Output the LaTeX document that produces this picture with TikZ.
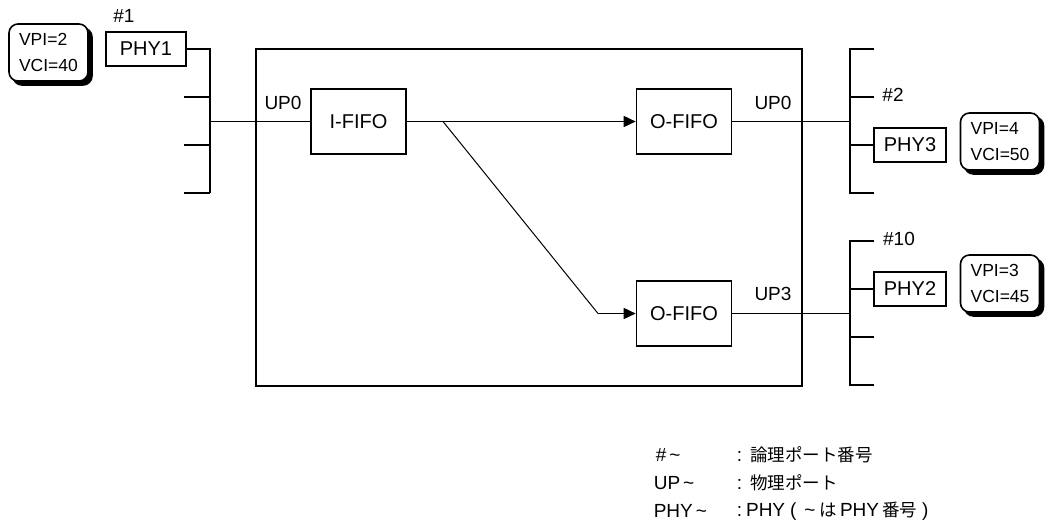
\documentclass[tikz,border=0pt]{standalone}
\usepackage{fontspec}
\setmainfont{Liberation Sans}
\newfontfamily\jp{Noto Sans CJK JP}
\usetikzlibrary{arrows.meta}
\begin{document}
\begin{tikzpicture}[x=1pt,y=-1pt,line width=1.6pt,
  box/.style={draw,minimum width=#1,minimum height=34pt,inner sep=0pt,font=\fontsize{20}{24}\selectfont},
  box/.default=72pt,
  fifo/.style={draw,minimum width=95pt,minimum height=65pt,inner sep=0pt,font=\fontsize{20}{24}\selectfont},
  lbl/.style={inner sep=0pt,font=\fontsize{19}{22}\selectfont},
  vpi/.style={draw,fill=white,rounded corners=9pt,minimum width=79pt,minimum height=57pt,inner sep=0pt,align=left,font=\fontsize{17.5}{26}\selectfont},
  shadow/.style={fill=black,draw=black,rounded corners=9pt,minimum width=79pt,minimum height=57pt,inner sep=0pt},
  arr/.style={-{Triangle[length=12pt,width=11pt]}},
  leg/.style={anchor=west,inner sep=0pt,font=\fontsize{19}{22}\selectfont}]
\useasboundingbox (0,0) rectangle (1045,531);

% ---- left side ----
\node[shadow] (vpi1s) at (52.5,56.5) {};
\node[vpi] (vpi1) at (48.5,52.5) {VPI=2\\VCI=40};
\node[lbl] (n1) at (124,16) {\#1};
\node[box=80pt] (phy1) at (146,49) {PHY1};
\coordinate (lbT) at (210,49);
\coordinate (lbB) at (210,193);
\coordinate (lbM) at (210,121.5);
\coordinate (ls1) at (184,97);
\coordinate (ls2) at (184,145);
\coordinate (ls3) at (184,193);
\draw (phy1.east) -- (lbT) -- (lbB);
\draw (ls1) -- (ls1 -| lbT);
\draw (ls2) -- (ls2 -| lbT);
\draw (ls3) -- (lbB);

% ---- switch box ----
\node[draw,minimum width=546pt,minimum height=337pt,inner sep=0pt] (sw) at (529,217.5) {};
\node[fifo] (ififo) at (358.5,121.5) {I-FIFO};
\node[fifo] (ofifo1) at (684,121.5) {O-FIFO};
\node[fifo] (ofifo2) at (684,313.5) {O-FIFO};
\node[lbl] (up0l) at (283,103) {UP0};
\node[lbl] (up0r) at (773,103) {UP0};
\node[lbl] (up3r) at (773,294) {UP3};
\draw (lbM) -- (ififo.west);
\draw[arr] (ififo.east) -- (ofifo1.west);
\coordinate (d0) at (443,121.5);
\coordinate (d1) at (598,313.5);
\draw[line width=1pt] (d0) -- (d1);
\draw[arr] (d1) -- (ofifo2.west);

% ---- right upper bus ----
\coordinate (r1T) at (850,49);
\coordinate (r1B) at (850,193);
\coordinate (r1M) at (850,121.5);
\draw (ofifo1.east) -- (r1M);
\draw (874,49) -- (r1T) -- (r1B) -- (874,193);
\coordinate (r1s1) at (874,97);
\draw (r1s1) -- (r1s1 -| r1T);
\node[lbl] (n2) at (893,95) {\#2};
\node[box=72pt] (phy3) at (910,145) {PHY3};
\draw (phy3.west) -- (phy3.west -| r1T);
\node[shadow] (vpi3s) at (1004,145.5) {};
\node[vpi] (vpi3) at (1000,141.5) {VPI=4\\VCI=50};

% ---- right lower bus ----
\coordinate (r2T) at (850,241);
\coordinate (r2B) at (850,385);
\coordinate (r2M) at (850,313.5);
\draw (ofifo2.east) -- (r2M);
\draw (874,241) -- (r2T) -- (r2B) -- (874,385);
\coordinate (r2s1) at (874,337);
\draw (r2s1) -- (r2s1 -| r2T);
\node[lbl] (n10) at (899,239) {\#10};
\node[box=72pt] (phy2) at (910,289) {PHY2};
\draw (phy2.west) -- (phy2.west -| r2T);
\node[shadow] (vpi2s) at (1004,287.5) {};
\node[vpi] (vpi2) at (1000,283.5) {VPI=3\\VCI=45};

% ---- legend ----
\newcommand{\jt}[1]{{\jp\fontsize{17.5}{22}\selectfont #1}}
\node[leg] (l1a) at (655,455) {\#\hspace{3pt}\textasciitilde};
\node[leg] (l1b) at (736,455) {:\hspace{8pt}\jt{論理ポート番号}};
\node[leg] (l2a) at (653,483) {UP\hspace{3pt}\textasciitilde};
\node[leg] (l2b) at (736,483) {:\hspace{8pt}\jt{物理ポート}};
\node[leg] (l3a) at (653,511) {PHY\hspace{3pt}\textasciitilde};
\node[leg] (l3b) at (736,511) {:\hspace{4pt}PHY\hspace{5pt}(\hspace{8pt}\textasciitilde\hspace{4pt}\jt{は}\hspace{3pt}PHY\hspace{3pt}\jt{番号}\hspace{5pt})};
\end{tikzpicture}
\end{document}
